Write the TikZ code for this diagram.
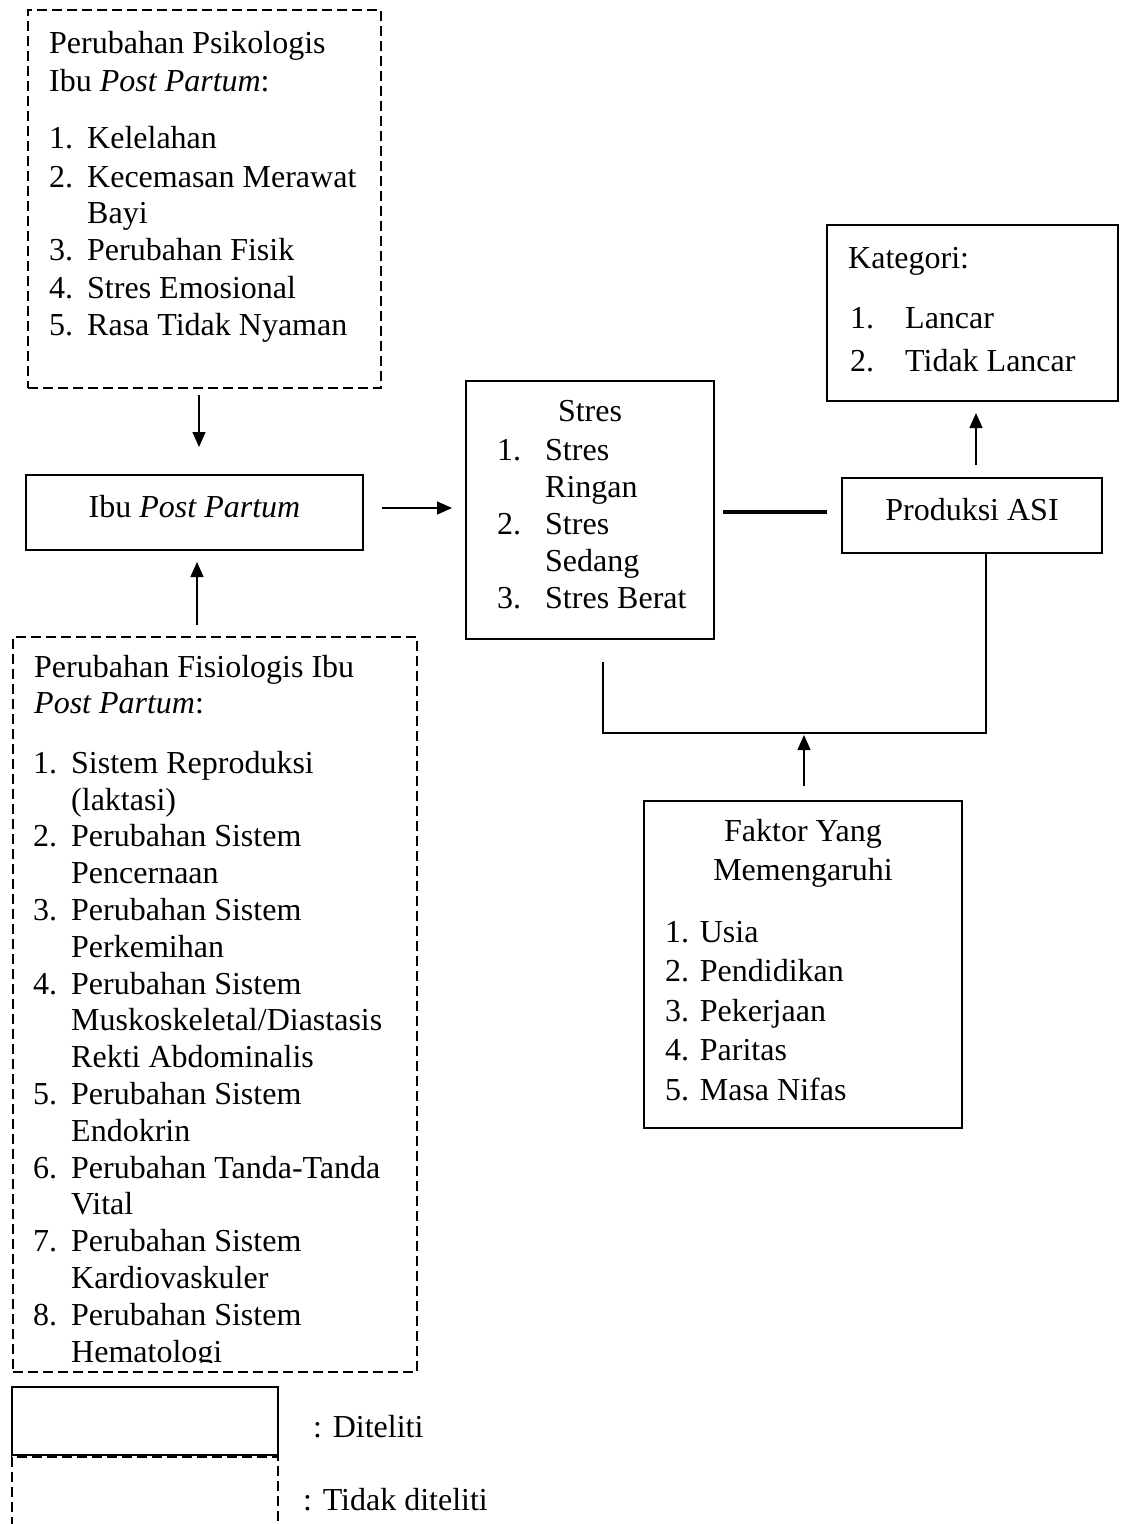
\documentclass[tikz,border=0pt]{standalone}
\usepackage{fontspec}
\setmainfont{Liberation Serif}
\usetikzlibrary{arrows.meta}
\tikzset{
  solidbox/.style={draw, line width=1.3pt, inner sep=0pt, outer sep=0pt},
  dashbox/.style={solidbox, dash pattern=on 10pt off 5pt},
  txt/.style={anchor=mid west, inner sep=0pt, yshift=-8pt, font=\fontsize{32}{37}\selectfont},
  ctxt/.style={txt, anchor=mid},
  arr/.style={line width=1.3pt, -{Triangle[length=15pt,width=13pt]}},
  conn/.style={line width=1.3pt},
}
\begin{document}
\begin{tikzpicture}[x=1pt,y=-1pt]
\clip (0,0) rectangle (1126,1524);
\fill[white] (0,0) rectangle (1126,1524);

% boxes
\node[dashbox, minimum width=353pt, minimum height=378pt] (psi) at (204.5,199) {};
\node[solidbox, minimum width=337pt, minimum height=75pt] (ibu) at (194.5,512.5) {};
\node[dashbox, minimum width=404pt, minimum height=735pt] (fis) at (215,1004.5) {};
\node[solidbox, minimum width=248pt, minimum height=258pt] (stres) at (590,510) {};
\node[solidbox, minimum width=260pt, minimum height=75pt] (prod) at (972,515.5) {};
\node[solidbox, minimum width=291pt, minimum height=176pt] (kat) at (972.5,313) {};
\node[solidbox, minimum width=318pt, minimum height=327pt] (fak) at (803,964.5) {};
\node[solidbox, minimum width=266pt, minimum height=68pt] (leg1) at (145,1421) {};
\node[dashbox, minimum width=266pt, minimum height=83pt] (leg2) at (145,1498.5) {};

% psikologis text
\node[txt] (p0) at (49,43) {Perubahan Psikologis};
\node[txt] (p00) at (49,81) {Ibu \textit{Post Partum}:};
\node[txt] (pn1) at (49,138) {1.};
\node[txt] (pt1) at (87,138) {Kelelahan};
\node[txt] (pn2) at (49,177) {2.};
\node[txt] (pt2) at (87,177) {Kecemasan Merawat};
\node[txt] (pt2b) at (87,213) {Bayi};
\node[txt] (pn3) at (49,250) {3.};
\node[txt] (pt3) at (87,250) {Perubahan Fisik};
\node[txt] (pn4) at (49,288) {4.};
\node[txt] (pt4) at (87,288) {Stres Emosional};
\node[txt] (pn5) at (49,325) {5.};
\node[txt] (pt5) at (87,325) {Rasa Tidak Nyaman};

% ibu text
\node[ctxt] (ibut) at (194.5,507) {Ibu \textit{Post Partum}};

% fisiologis text
\node[txt] (f0) at (34,667) {Perubahan Fisiologis Ibu};
\node[txt] (f00) at (34,703) {\textit{Post Partum}:};
\node[txt] (fn1) at (33,763) {1.};
\node[txt] (ft1) at (71,763) {Sistem Reproduksi};
\node[txt] (ft1b) at (71,799.8) {(laktasi)};
\node[txt] (fn2) at (33,836.6) {2.};
\node[txt] (ft2) at (71,836.6) {Perubahan Sistem};
\node[txt] (ft2b) at (71,873.4) {Pencernaan};
\node[txt] (fn3) at (33,910.2) {3.};
\node[txt] (ft3) at (71,910.2) {Perubahan Sistem};
\node[txt] (ft3b) at (71,947) {Perkemihan};
\node[txt] (fn4) at (33,983.8) {4.};
\node[txt] (ft4) at (71,983.8) {Perubahan Sistem};
\node[txt] (ft4b) at (71,1020.6) {Muskoskeletal/Diastasis};
\node[txt] (ft4c) at (71,1057.4) {Rekti Abdominalis};
\node[txt] (fn5) at (33,1094.2) {5.};
\node[txt] (ft5) at (71,1094.2) {Perubahan Sistem};
\node[txt] (ft5b) at (71,1131) {Endokrin};
\node[txt] (fn6) at (33,1167.8) {6.};
\node[txt] (ft6) at (71,1167.8) {Perubahan Tanda-Tanda};
\node[txt] (ft6b) at (71,1204.6) {Vital};
\node[txt] (fn7) at (33,1241.4) {7.};
\node[txt] (ft7) at (71,1241.4) {Perubahan Sistem};
\node[txt] (ft7b) at (71,1278.2) {Kardiovaskuler};
\node[txt] (fn8) at (33,1315) {8.};
\node[txt] (ft8) at (71,1315) {Perubahan Sistem};
\begin{scope}
\clip (0,0) rectangle (1126,1362);
\node[txt] (ft8b) at (71,1351.8) {Hematologi};
\end{scope}

% stres text
\node[ctxt] (s0) at (590,411) {Stres};
\node[txt] (sn1) at (497,450) {1.};
\node[txt] (st1) at (545,450) {Stres};
\node[txt] (st1b) at (545,487) {Ringan};
\node[txt] (sn2) at (497,524) {2.};
\node[txt] (st2) at (545,524) {Stres};
\node[txt] (st2b) at (545,561) {Sedang};
\node[txt] (sn3) at (497,598) {3.};
\node[txt] (st3) at (545,598) {Stres Berat};

% produksi text
\node[ctxt] (prodt) at (972,510) {Produksi ASI};

% kategori text
\node[txt] (k0) at (848,258) {Kategori:};
\node[txt] (kn1) at (850,318) {1.};
\node[txt] (kt1) at (905,318) {Lancar};
\node[txt] (kn2) at (850,361) {2.};
\node[txt] (kt2) at (905,361) {Tidak Lancar};

% faktor text
\node[ctxt] (fa0) at (803,831) {Faktor Yang};
\node[ctxt] (fa00) at (803,870) {Memengaruhi};
\node[txt] (fa1) at (665,932) {1. Usia};
\node[txt] (fa2) at (665,971) {2. Pendidikan};
\node[txt] (fa3) at (665,1011) {3. Pekerjaan};
\node[txt] (fa4) at (665,1050) {4. Paritas};
\node[txt] (fa5) at (665,1090) {5. Masa Nifas};

% legend text
\node[txt] (l1) at (313,1427) {: Diteliti};
\node[txt] (l2) at (303,1500) {: Tidak diteliti};

% connectors
\draw[arr] ([xshift=-5.5pt,yshift=-7pt]psi.south) -- ([xshift=4.5pt,yshift=28pt]ibu.north);
\draw[arr] ([xshift=-18pt,yshift=12pt]fis.north) -- ([xshift=2.5pt,yshift=-12pt]ibu.south);
\draw[arr] ([xshift=19pt,yshift=4.5pt]ibu.east) -- ([xshift=-14pt,yshift=2pt]stres.west);
\draw[line width=4pt] ([xshift=9pt,yshift=-2pt]stres.east) -- ([xshift=-15pt,yshift=3.5pt]prod.west);
\draw[arr] ([xshift=4pt,yshift=13pt]prod.north) -- ([xshift=3.5pt,yshift=-12pt]kat.south);
\coordinate (j) at (804,733);
\draw[conn] ([xshift=13pt,yshift=-23pt]stres.south) |- (j) -| ([xshift=14pt]prod.south);
\draw[arr] ([xshift=1pt,yshift=15pt]fak.north) -- ([yshift=-2pt]j);
\end{tikzpicture}
\end{document}
